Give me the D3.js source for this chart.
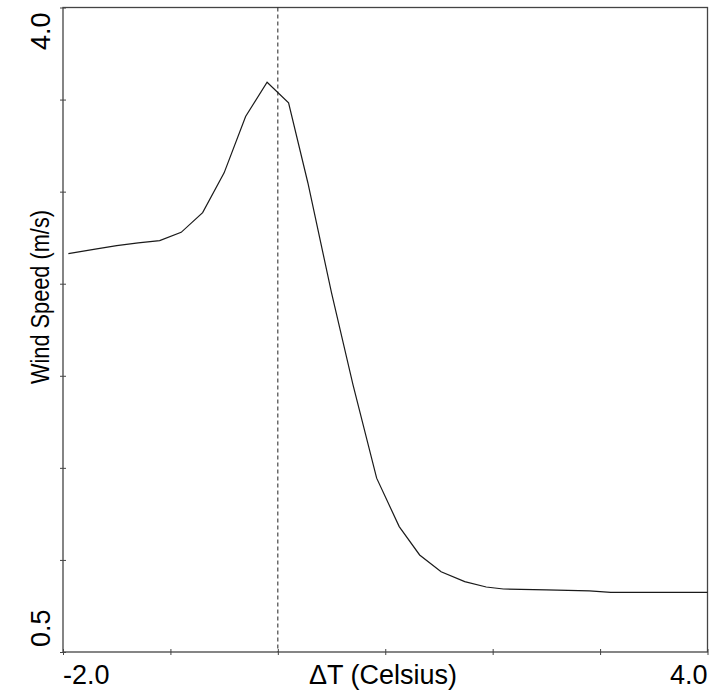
<!DOCTYPE html>
<html>
<head>
<meta charset="utf-8">
<script src="https://cdn.jsdelivr.net/npm/d3@7"></script>
<style>
  html, body { margin: 0; padding: 0; background: #fff; }
  svg { display: block; }
  text { font-family: "Liberation Sans", Arial, sans-serif; fill: #000; }
</style>
</head>
<body>
<svg id="chart" width="727" height="693"></svg>
<script>
// ΔT (Celsius) values
const deltaT = [-1.95, -1.7, -1.5, -1.3, -1.1, -0.9, -0.7, -0.5, -0.3, -0.1, 0.1, 0.28, 0.5, 0.7, 0.92, 1.13, 1.32, 1.52, 1.74, 1.94, 2.1, 2.5, 2.9, 3.1, 4.0];
// Wind speed (m/s)
const windSpeed = [2.663, 2.688, 2.707, 2.722, 2.734, 2.779, 2.886, 3.102, 3.408, 3.594, 3.482, 3.047, 2.45, 1.951, 1.444, 1.181, 1.027, 0.936, 0.882, 0.853, 0.842, 0.837, 0.832, 0.824, 0.824];
const xTicks = [-2, -1, 0, 1, 2, 3, 4];
const yTicks = [0.5, 1.0, 1.5, 2.0, 2.5, 3.0, 3.5, 4.0];
const xTickLabels = [{v: -2, t: "-2.0"}, {v: 4, t: "4.0"}];
const yTickLabels = [{v: 0.5, t: "0.5"}, {v: 4.0, t: "4.0"}];
const referenceT = 0;
const xTitle = "ΔT (Celsius)";
const yTitle = "Wind Speed (m/s)";

(function () {
const svg = d3.select("#chart");
const mLeft = 63, mRight = 707.5, mTop = 7.5, mBottom = 652;

const x = d3.scaleLinear().domain([-2, 4]).range([mLeft, mRight]);
const y = d3.scaleLinear().domain([0.5, 4.0]).range([mBottom, mTop]);

const frameColor = "#444";

// frame
svg.append("rect")
  .attr("x", mLeft).attr("y", mTop)
  .attr("width", mRight - mLeft).attr("height", mBottom - mTop)
  .attr("fill", "none").attr("stroke", frameColor).attr("stroke-width", 1.3);

// x axis ticks
const gx = svg.append("g").attr("transform", `translate(0,${mBottom})`)
  .call(d3.axisBottom(x).tickValues(xTicks).tickFormat("").tickSizeOuter(0));
gx.select(".domain").remove();
gx.selectAll(".tick line").attr("y1", -3).attr("y2", 3).attr("stroke", frameColor);

// y axis ticks
const gy = svg.append("g").attr("transform", `translate(${mLeft},0)`)
  .call(d3.axisLeft(y).tickValues(yTicks).tickFormat("").tickSizeOuter(0));
gy.select(".domain").remove();
gy.selectAll(".tick line").attr("x1", -3).attr("x2", 3).attr("stroke", frameColor);

// reference dashed line
svg.append("line")
  .attr("x1", x(referenceT)).attr("x2", x(referenceT))
  .attr("y1", mTop).attr("y2", mBottom)
  .attr("stroke", "#222").attr("stroke-width", 1)
  .attr("stroke-dasharray", "4,3");

// curve
const data = deltaT.map((d, i) => ({t: d, v: windSpeed[i]}));
svg.append("path")
  .datum(data)
  .attr("fill", "none")
  .attr("stroke", "#1a1a1a")
  .attr("stroke-width", 1.2)
  .attr("d", d3.line().x(d => x(d.t)).y(d => y(d.v)));

// x tick labels
svg.selectAll(".xlab").data(xTickLabels).enter().append("text")
  .attr("x", d => x(d.v))
  .attr("y", 684)
  .attr("text-anchor", (d, i) => i === 0 ? "start" : "end")
  .attr("font-size", 27)
  .text(d => d.t);

// y tick labels (rotated)
svg.selectAll(".ylab").data(yTickLabels).enter().append("text")
  .attr("transform", (d, i) => `translate(50,${i === 0 ? y(d.v) - 5 : y(d.v) + 5}) rotate(-90)`)
  .attr("text-anchor", (d, i) => i === 0 ? "start" : "end")
  .attr("font-size", 27)
  .text(d => d.t);

// x title
svg.append("text")
  .attr("x", 383).attr("y", 684)
  .attr("text-anchor", "middle")
  .attr("font-size", 27)
  .text(xTitle);

// y title
svg.append("text")
  .attr("transform", "translate(49,297) rotate(-90)")
  .attr("text-anchor", "middle")
  .attr("font-size", 26)
  .attr("textLength", 174)
  .attr("lengthAdjust", "spacingAndGlyphs")
  .text(yTitle);
})();
</script>
</body>
</html>
